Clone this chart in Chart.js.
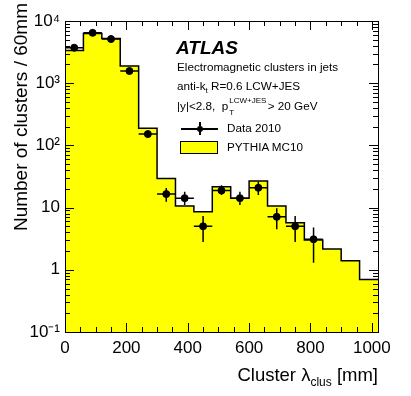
<!DOCTYPE html>
<html>
<head>
<meta charset="utf-8">
<script src="https://cdn.jsdelivr.net/npm/chart.js@4.4.0/dist/chart.umd.min.js"></script>
<style>
  html, body { margin: 0; padding: 0; background: #fff; }
  #wrap { position: relative; width: 411px; height: 396px; font-family: "Liberation Sans", Arial, sans-serif; color: #000; }
  #chart { position: absolute; left: 0; top: 0; }
  .txt { position: absolute; white-space: nowrap; }
  sub, sup { font-size: 8px; line-height: 0; }
</style>
</head>
<body>
<div id="wrap">
  <canvas id="chart" width="411" height="396"></canvas>

  <div class="txt" id="ytitle" style="left:10px; top:303px; width:300px; height:22px; line-height:22px; font-size:19px; text-align:right; transform-origin:0 0; transform:rotate(-90deg);">Number of clusters / 60mm</div>
  <div class="txt" style="right:33px; top:365px; line-height:20px; font-size:18.5px;">Cluster &lambda;<sub style="font-size:12px; vertical-align:-5px;">clus</sub> [mm]</div>

  <div class="txt" style="left:176px; top:38px; font-size:19px; font-weight:bold; font-style:italic; line-height:20px;">ATLAS</div>
  <div class="txt" style="left:177px; top:60px; font-size:11.7px; line-height:14px;">Electromagnetic clusters in jets</div>
  <div class="txt" style="left:177px; top:79px; font-size:11.7px; line-height:14px;">anti-k<sub style="vertical-align:-3px;">t</sub> R=0.6 LCW+JES</div>
  <div class="txt" style="left:177px; top:99px; font-size:11.7px; line-height:14px;">|y|&lt;2.8, &nbsp;p<span style="display:inline-block; position:relative; width:33px; height:10px;"><span style="position:absolute; left:1px; top:-6px; font-size:8px;">LCW+JES</span><span style="position:absolute; left:1px; top:6px; font-size:8px;">T</span></span> &nbsp;&gt; 20 GeV</div>

  <!-- legend -->
  <div style="position:absolute; left:181px; top:128px; width:37px; height:1.5px; background:#000;"></div>
  <div style="position:absolute; left:199px; top:122px; width:1.5px; height:13px; background:#000;"></div>
  <div style="position:absolute; left:196.5px; top:125.5px; width:6.5px; height:6.5px; border-radius:50%; background:#000;"></div>
  <div class="txt" style="left:227px; top:121px; font-size:11.7px; line-height:14px;">Data 2010</div>
  <div style="position:absolute; left:180px; top:141px; width:36px; height:11px; background:#ffff00; border:1.5px solid #000;"></div>
  <div class="txt" style="left:227px; top:140px; font-size:11.7px; line-height:14px;">PYTHIA MC10</div>
</div>

<script>
// bin edges (mm), 60 mm bins
const binEdges = [0, 60, 120, 180, 240, 300, 360, 420, 480, 540, 600, 660, 720, 780, 840, 900, 960, 1020];

// PYTHIA MC10 histogram, one value per bin
const mcCounts = [3350, 6300, 5250, 1890, 188, 29.5, 10.6, 8.6, 21.7, 14.1, 26.7, 10.6, 5.7, 3.0, 2.15, 1.4, 0.7];

// Data 2010, first 14 bins
const dataCounts = [3720, 6450, 5130, 1570, 152, 16.5, 14.2, 5.0, 18.8, 14.2, 20.8, 7.1, 5.0, 3.1];
const dataLow    = [3660, 6370, 5060, 1530, 140, 12.4, 11.0, 2.8, 15.9, 11.0, 15.9, 4.5, 2.8, 1.3];
const dataHigh   = [3780, 6530, 5200, 1610, 164, 20.7, 18.0, 7.3, 22.9, 18.0, 26.0, 9.8, 7.3, 4.8];

// axis ticks
const xTickValues = [0, 200, 400, 600, 800, 1000];
const yTickValues = [0.1, 1, 10, 100, 1000, 10000];
const yTickLabels = ['10\u207B\u00B9', '1', '10', '10\u00B2', '10\u00B3', '10\u2074'];

const FONT = '"Liberation Sans", Arial, sans-serif';

const mcPoints = binEdges.map((e, i) => ({ x: e, y: mcCounts[Math.min(i, mcCounts.length - 1)] }));
const dataPoints = dataCounts.map((v, i) => ({ x: (binEdges[i] + binEdges[i + 1]) / 2, y: v }));

// error bars: horizontal = bin width, vertical = data uncertainty
const errorBars = {
  id: 'errorBars',
  afterDatasetsDraw(chart) {
    const { ctx, scales: { x, y } } = chart;
    ctx.save();
    ctx.strokeStyle = '#000';
    ctx.lineWidth = 1.5;
    ctx.beginPath();
    dataCounts.forEach((v, i) => {
      const py = y.getPixelForValue(v);
      const pc = x.getPixelForValue((binEdges[i] + binEdges[i + 1]) / 2);
      ctx.moveTo(x.getPixelForValue(binEdges[i]), py);
      ctx.lineTo(x.getPixelForValue(binEdges[i + 1]), py);
      ctx.moveTo(pc, y.getPixelForValue(dataLow[i]));
      ctx.lineTo(pc, y.getPixelForValue(dataHigh[i]));
    });
    ctx.stroke();
    ctx.restore();
  }
};

// ROOT style frame with inner ticks on all four sides
const frameTicks = {
  id: 'frameTicks',
  afterDraw(chart) {
    const { ctx, chartArea: a, scales: { x, y } } = chart;
    ctx.save();
    ctx.strokeStyle = '#000';
    ctx.lineWidth = 1;
    ctx.beginPath();
    for (let v = 0; v <= x.max; v += 50) {
      const px = Math.round(x.getPixelForValue(v)) + 0.5;
      const len = v % 200 === 0 ? 9 : 5;
      ctx.moveTo(px, a.bottom); ctx.lineTo(px, a.bottom - len);
      ctx.moveTo(px, a.top); ctx.lineTo(px, a.top + len);
    }
    for (let d = -1; d < 4; d++) {
      for (let m = 1; m <= 9; m++) {
        const py = Math.round(y.getPixelForValue(m * Math.pow(10, d))) + 0.5;
        const len = m === 1 ? 9 : 5;
        ctx.moveTo(a.left, py); ctx.lineTo(a.left + len, py);
        ctx.moveTo(a.right, py); ctx.lineTo(a.right - len, py);
      }
    }
    ctx.stroke();
    ctx.strokeRect(Math.round(a.left) + 0.5, Math.round(a.top) + 0.5,
      Math.round(a.right - a.left), Math.round(a.bottom - a.top));
    ctx.restore();
  }
};

new Chart(document.getElementById('chart'), {
  type: 'line',
  data: {
    datasets: [
      {
        label: 'PYTHIA MC10',
        data: mcPoints,
        stepped: 'before',
        fill: 'start',
        backgroundColor: '#ffff00',
        borderColor: '#000',
        borderWidth: 1.5,
        pointRadius: 0,
        order: 2
      },
      {
        label: 'Data 2010',
        data: dataPoints,
        showLine: false,
        pointRadius: 3.5,
        pointBackgroundColor: '#000',
        pointBorderColor: '#000',
        order: 1
      }
    ]
  },
  options: {
    responsive: false,
    devicePixelRatio: 1,
    animation: false,
    layout: { padding: { top: 21, right: 33, left: 0, bottom: 0 } },
    plugins: { legend: { display: false }, tooltip: { enabled: false } },
    scales: {
      x: {
        type: 'linear',
        min: 0,
        max: 1020,
        grid: { display: false, drawTicks: false },
        border: { display: false },
        ticks: {
          color: '#000', font: { family: FONT, size: 17 }, padding: 6, maxRotation: 0,
          callback: v => String(v)
        },
        afterBuildTicks: s => { s.ticks = xTickValues.map(v => ({ value: v })); },
        afterFit: s => { s.height = 64; }
      },
      y: {
        type: 'logarithmic',
        min: 0.1,
        max: 10000,
        grid: { display: false, drawTicks: false },
        border: { display: false },
        ticks: {
          color: '#000', font: { family: FONT, size: 17 }, padding: 5,
          callback: v => yTickLabels[yTickValues.indexOf(v)] ?? ''
        },
        afterBuildTicks: s => { s.ticks = yTickValues.map(v => ({ value: v })); },
        afterFit: s => { s.width = 65; }
      }
    }
  },
  plugins: [errorBars, frameTicks]
});
</script>
</body>
</html>
